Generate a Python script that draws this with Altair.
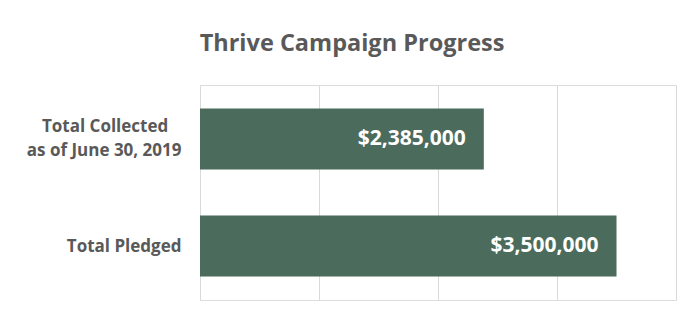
import altair as alt
import pandas as pd

PAD = "\u00a0" * 3 + "\u200b"
categories = ["Total Collected" + PAD + "|as of June 30, 2019", "Total Pledged"]
values = [2385000, 3500000]
grid_ticks = [0, 1000000, 2000000, 3000000, 4000000]

df = pd.DataFrame({"category": categories, "value": values})

FONT = "Open Sans"
GREEN = "#4b6b5d"
GREY = "#595959"

y_enc = alt.Y(
    "category:N",
    sort=categories,
    title=None,
    scale=alt.Scale(paddingInner=0.43, paddingOuter=0.22),
    axis=alt.Axis(
        labelExpr="split(datum.label, '|')",
        labelFont=FONT,
        labelFontSize=17,
        labelFontWeight="bold",
        labelColor=GREY,
        labelLineHeight=24,
        labelPadding=19,
        labelOffset={
            "condition": {"test": "indexof(datum.label, '|') >= 0", "value": -12},
            "value": 1,
        },
        domain=False,
        ticks=False,
        grid=False,
    ),
)

x_enc = alt.X(
    "value:Q",
    title=None,
    scale=alt.Scale(domain=[0, 4000000], nice=False),
    axis=alt.Axis(
        values=grid_ticks,
        labels=False,
        ticks=False,
        domain=False,
        grid=True,
        gridColor="#d9d9d9",
        gridWidth=1,
    ),
)

base = alt.Chart(df).encode(x=x_enc, y=y_enc)

bars = base.mark_bar(color=GREEN)

text = base.mark_text(
    align="right",
    baseline="middle",
    dx=-18,
    color="white",
    font=FONT,
    fontSize=21,
    fontWeight="bold",
).encode(text=alt.Text("value:Q", format="$,.0f"))

chart = (
    alt.layer(bars, text)
    .properties(
        width=476,
        height=215,
        title=alt.TitleParams(
            "Thrive Campaign Progress",
            font=FONT,
            fontSize=23.5,
            fontWeight="bold",
            color=GREY,
            anchor="middle",
            dx=-86,
            offset=30,
        ),
        autosize=alt.AutoSizeParams(type="none"),
        padding={"left": 192, "top": 77, "right": 5, "bottom": 5},
    )
    .configure_view(strokeWidth=0, stroke="transparent", strokeOpacity=0)
    .configure(background="white")
)

chart.save("out.html", embed_options={"renderer": "svg", "actions": False})
